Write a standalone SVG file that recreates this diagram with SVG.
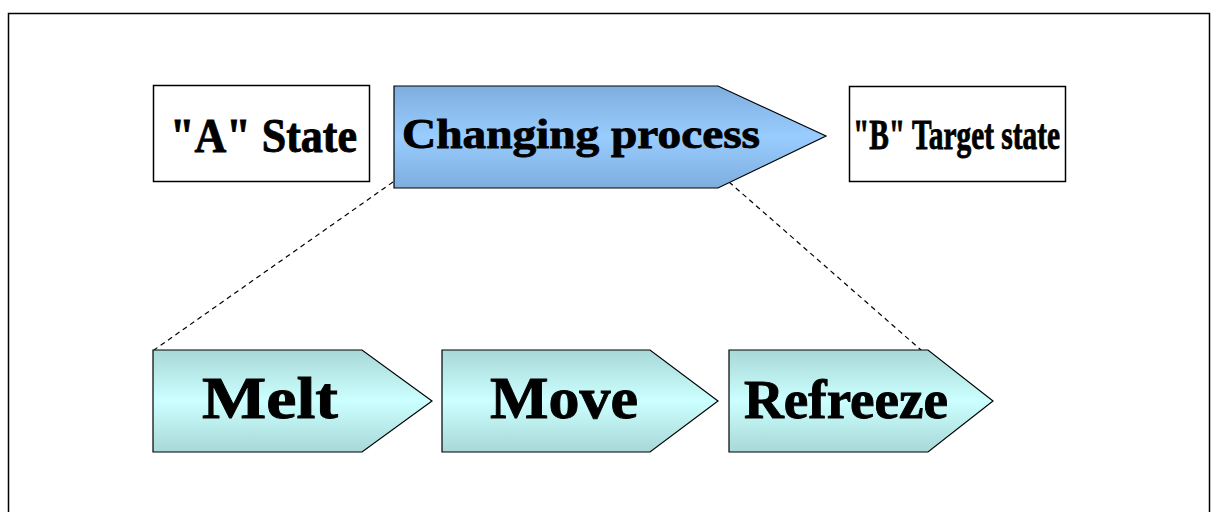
<svg xmlns="http://www.w3.org/2000/svg" width="1214" height="512" viewBox="0 0 1214 512">
<style>
.box{fill:#fff;stroke:#000;stroke-width:1.5}
.blue{fill:url(#gBlue);stroke:#000;stroke-width:1.2}
.cyan{fill:url(#gCyan);stroke:#000;stroke-width:1.2}
.t{font-family:"Liberation Serif","Times New Roman",serif;font-weight:bold;fill:#000;stroke:#000;stroke-width:0.9}
.dash{fill:none;stroke:#000;stroke-width:1.2;stroke-dasharray:5,4}
</style>
<defs>
<linearGradient id="gBlue" x1="0" y1="0" x2="0" y2="1">
<stop offset="0" stop-color="#7EAEDE"/>
<stop offset="0.5" stop-color="#99CCFF"/>
<stop offset="1" stop-color="#7EAEDE"/>
</linearGradient>
<linearGradient id="gCyan" x1="0" y1="0" x2="0" y2="1">
<stop offset="0" stop-color="#A8D8D8"/>
<stop offset="0.5" stop-color="#CCFFFF"/>
<stop offset="1" stop-color="#A8D8D8"/>
</linearGradient>
</defs>
<rect x="0" y="0" width="1214" height="512" fill="#fff"/>
<rect x="8.5" y="13.5" width="1201" height="520" fill="none" stroke="#000" stroke-width="1.5"/>
<g id="connectors">
<line class="dash" x1="393" y1="182" x2="154" y2="350"/>
<line class="dash" x1="729" y1="182" x2="921" y2="350"/>
</g>
<g id="stateA">
<rect class="box" x="153.5" y="85.5" width="216" height="96"/>
<text class="t" x="170" y="152" font-size="48" textLength="187" lengthAdjust="spacingAndGlyphs">"A" State</text>
</g>
<g id="changing">
<polygon class="blue" points="394,86 718,86 826,136 718,188 394,188"/>
<text class="t" x="402" y="148" font-size="43" textLength="358" lengthAdjust="spacingAndGlyphs">Changing process</text>
</g>
<g id="stateB">
<rect class="box" x="849.5" y="86.5" width="216" height="95"/>
<text class="t" x="853" y="149" font-size="43" textLength="207" lengthAdjust="spacingAndGlyphs">"B" Target state</text>
</g>
<g id="melt">
<polygon class="cyan" points="153,350 362,350 432,401 362,452 153,452"/>
<text class="t" x="202" y="418" font-size="60" textLength="136" lengthAdjust="spacingAndGlyphs">Melt</text>
</g>
<g id="move">
<polygon class="cyan" points="442,350 650,350 718,401 650,452 442,452"/>
<text class="t" x="490" y="418" font-size="60" textLength="148" lengthAdjust="spacingAndGlyphs">Move</text>
</g>
<g id="refreeze">
<polygon class="cyan" points="729,350 928,350 993,401 928,452 729,452"/>
<text class="t" x="744" y="418" font-size="54" textLength="204" lengthAdjust="spacingAndGlyphs">Refreeze</text>
</g>
</svg>
